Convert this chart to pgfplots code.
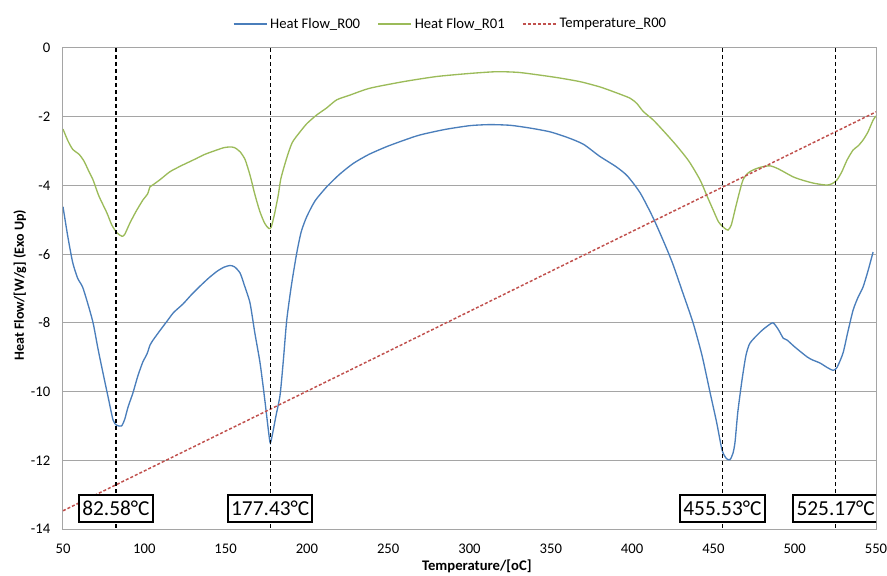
\documentclass[border=0pt]{standalone}
\usepackage{pgfplots}
\pgfplotsset{compat=1.18}
\usepackage{fontspec}
\setmainfont{Carlito}
\definecolor{exblue}{RGB}{74,126,187}
\definecolor{exgreen}{RGB}{155,187,89}
\definecolor{exred}{RGB}{192,80,77}
\definecolor{gridgray}{RGB}{165,165,165}
\begin{document}
\begin{tikzpicture}
\begin{axis}[
  scale only axis, width=609.75pt, height=360.75pt,
  xmin=50, xmax=550, ymin=-14, ymax=0,
  xtick={50,100,...,550}, ytick={-14,-12,...,0},
  ymajorgrids, grid style={gridgray, line width=0.75pt},
  axis line style={gridgray, line width=0.75pt},
  major tick length=0pt,
  tick label style={font=\fontsize{11}{12}\selectfont, /pgf/number format/assume math mode=true},
  xticklabel style={yshift=-7.5pt},
  yticklabel style={xshift=-6pt},
  xlabel={\bfseries Temperature/[oC]},
  ylabel={\bfseries Heat Flow/[W/g] (Exo Up)},
  xlabel style={at={(axis description cs:0.509,-0.0769)}, anchor=center, font=\fontsize{11}{12}\selectfont},
  ylabel style={at={(axis description cs:-0.0529,0.507)}, anchor=center, font=\fontsize{10.5}{12}\selectfont},
  legend style={at={(axis description cs:0.477,1)}, anchor=center, yshift=18pt, draw=none, fill=none,
    font=\fontsize{11}{12}\selectfont, legend columns=3,
    /tikz/every even column/.append style={column sep=11pt}},
  legend image code/.code={\draw[#1] (0pt,0pt) -- (25pt,0pt);},
]
\addplot[exblue, line width=1pt, smooth, tension=0.4] coordinates {
(50,-4.62) (53,-5.5) (56,-6.25) (59,-6.7) (62,-6.95) (65,-7.4) (68.5,-8.0) (71.5,-8.75) (74.6,-9.46) (77.7,-10.15) (80.8,-10.83) (83,-10.98) (86,-11.0) (88,-10.8) (90,-10.45) (93,-10.04) (96,-9.55) (99,-9.15) (101.7,-8.9) (103.5,-8.65) (105.4,-8.5) (110,-8.2) (114,-7.95) (118,-7.7) (123.8,-7.45) (129,-7.18) (134.3,-6.93) (139.5,-6.7) (144.7,-6.5) (149,-6.38) (152.7,-6.33) (155.5,-6.37) (158.9,-6.55) (161.5,-6.9) (165,-7.42) (168,-8.3) (171.2,-9.17) (174,-10.2) (176.5,-11.2) (177.5,-11.5) (179,-11.2) (181,-10.7) (183.5,-10.1) (185.5,-9.1) (187.6,-7.92) (190.5,-6.9) (193.7,-5.98) (196.5,-5.35) (199.9,-4.91) (205,-4.45) (212.2,-4.04) (220,-3.68) (228.5,-3.36) (238,-3.1) (249.1,-2.87) (260,-2.68) (269.6,-2.53) (285,-2.37) (300.3,-2.26) (312.6,-2.23) (325,-2.25) (337.2,-2.33) (349.5,-2.44) (360,-2.6) (370,-2.8) (380,-3.15) (390,-3.45) (397,-3.72) (405,-4.22) (413,-4.95) (420,-5.7) (425,-6.28) (431,-7.1) (437.5,-8.0) (443,-8.95) (448,-10.04) (452,-10.9) (455.3,-11.7) (458,-11.95) (460.2,-11.98) (462,-11.8) (463.3,-11.47) (465,-10.6) (467.6,-9.66) (470,-8.95) (472.5,-8.59) (478.7,-8.27) (483,-8.1) (486.7,-8.0) (490,-8.2) (493,-8.45) (495.3,-8.5) (500,-8.7) (507.6,-8.99) (511,-9.08) (515.6,-9.17) (520,-9.3) (523.6,-9.38) (526,-9.3) (529.7,-8.88) (532.5,-8.3) (535.9,-7.63) (539,-7.25) (542,-6.96) (545,-6.5) (548.2,-5.94)
};
\addlegendentry{Heat Flow\_R00}
\addplot[exgreen, line width=1pt, smooth, tension=0.4] coordinates {
(50,-2.36) (53,-2.7) (56,-2.95) (60,-3.1) (63,-3.3) (66,-3.6) (68.5,-3.84) (72,-4.3) (77,-4.8) (80,-5.15) (83.2,-5.38) (86.3,-5.48) (88,-5.42) (91.2,-5.09) (95,-4.75) (99.2,-4.42) (102,-4.25) (103.5,-4.04) (105.4,-3.98) (110,-3.82) (115.8,-3.6) (123,-3.42) (130.1,-3.26) (137,-3.1) (144.5,-2.97) (149,-2.9) (152.7,-2.88) (155.5,-2.9) (158.9,-3.02) (162,-3.25) (165,-3.7) (168.1,-4.28) (171,-4.75) (174,-5.1) (176.5,-5.25) (178,-5.22) (180,-4.85) (182.4,-4.28) (184,-3.8) (187.6,-3.2) (191,-2.75) (195.8,-2.44) (200,-2.2) (206,-1.95) (212,-1.75) (218.3,-1.51) (226.5,-1.37) (238.8,-1.17) (259.3,-0.98) (279.8,-0.83) (300.3,-0.74) (316.7,-0.69) (330,-0.71) (343.4,-0.79) (355,-0.87) (368,-0.98) (380,-1.13) (388.4,-1.27) (398.7,-1.46) (403,-1.62) (406.9,-1.85) (413.1,-2.1) (420,-2.45) (427.5,-2.85) (435,-3.3) (441.8,-3.84) (446,-4.3) (449.8,-4.71) (453,-5.05) (455.3,-5.18) (457,-5.25) (459,-5.3) (461,-5.15) (463.3,-4.71) (466,-4.2) (468.2,-3.84) (471,-3.65) (474.4,-3.55) (479,-3.47) (484.8,-3.43) (490,-3.52) (499,-3.75) (505,-3.85) (511.2,-3.93) (516,-3.97) (519.9,-3.99) (523,-3.95) (526,-3.84) (529,-3.6) (532.2,-3.26) (535.9,-2.97) (539,-2.85) (542,-2.68) (545,-2.45) (548.2,-2.1) (550,-1.98)
};
\addlegendentry{Heat Flow\_R01}
\addplot[exred, line width=1.1pt, dash pattern=on 2.25pt off 1.5pt] coordinates {
(50,-13.47) (150,-11.15) (250,-8.83) (350,-6.5) (450,-4.18) (550,-1.86)
};
\addlegendentry{Temperature\_R00}
\addplot[black, line width=0.9pt, dash pattern=on 3pt off 2.25pt, forget plot] coordinates {(82.58,0) (82.58,-14)};
\addplot[black, line width=0.9pt, dash pattern=on 3pt off 2.25pt, forget plot] coordinates {(177.43,0) (177.43,-14)};
\addplot[black, line width=0.9pt, dash pattern=on 3pt off 2.25pt, forget plot] coordinates {(455.53,0) (455.53,-14)};
\addplot[black, line width=0.9pt, dash pattern=on 3pt off 2.25pt, forget plot] coordinates {(525.17,0) (525.17,-14)};
\tikzset{boxlab/.style={draw=black, line width=1.5pt, fill=white, inner xsep=2.4pt, inner ysep=0pt, minimum height=20.25pt, font=\fontsize{16}{18}\selectfont}}
\node[boxlab] at (axis cs:82.58,-13.39) {82.58°C};
\node[boxlab] at (axis cs:177.43,-13.39) {177.43°C};
\node[boxlab] at (axis cs:455.53,-13.39) {455.53°C};
\node[boxlab] at (axis cs:525.17,-13.39) {525.17°C};
\end{axis}
\pgfresetboundingbox
\useasboundingbox ([shift={(-47.25pt,-34.5pt)}]current axis.south west) rectangle ([shift={(8.25pt,36pt)}]current axis.north east);
\end{tikzpicture}
\end{document}
